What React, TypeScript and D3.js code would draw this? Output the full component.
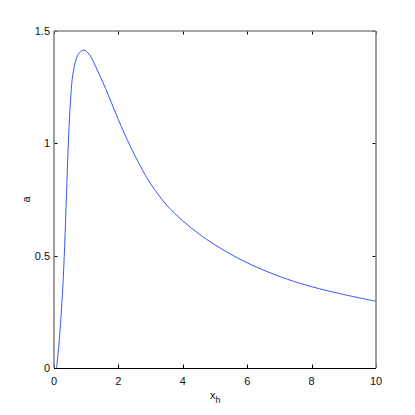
import { useEffect, useRef } from 'react';
import * as d3 from 'd3';

// values
const xs = [0.08, 0.165, 0.27, 0.33, 0.39, 0.44, 0.5, 0.6, 0.75, 0.92, 1.1, 1.3, 1.6, 2.0, 2.36, 2.67, 3.0, 3.5, 4.0, 4.5, 5.0, 5.78, 6.5, 7.25, 8.0, 9.0, 10];
const ys = [0, 0.125, 0.35, 0.54, 0.78, 0.98, 1.16, 1.32, 1.395, 1.415, 1.395, 1.34, 1.245, 1.105, 0.99, 0.902, 0.82, 0.725, 0.655, 0.597, 0.548, 0.484, 0.436, 0.395, 0.362, 0.327, 0.297];
const xTicks = [0, 2, 4, 6, 8, 10];
const yTicks = [0, 0.5, 1, 1.5];

const W = 415;
const H = 415;
const margin = { top: 31, right: 39, bottom: 47, left: 54 };

export default function App() {
  const svgRef = useRef<SVGSVGElement>(null);

  useEffect(() => {
    if (!svgRef.current) return;
    const svg = d3.select(svgRef.current);
    svg.selectAll('*').remove();

    const x = d3.scaleLinear().domain([0, 10]).range([margin.left, W - margin.right]);
    const y = d3.scaleLinear().domain([0, 1.5]).range([H - margin.bottom, margin.top]);
    const font = 'Liberation Sans, Arial, sans-serif';
    const tl = 3.5;

    svg.append('rect').attr('width', W).attr('height', H).attr('fill', '#fff');

    const pts = xs.map((v, i) => [v, ys[i]] as [number, number]);
    const line = d3.line<[number, number]>()
      .x(d => x(d[0]))
      .y(d => y(d[1]))
      .curve(d3.curveCatmullRom.alpha(0.5));

    svg.append('path')
      .attr('d', line(pts))
      .attr('fill', 'none')
      .attr('stroke', '#3355ff')
      .attr('stroke-width', 1);

    const x0 = x(0), x1 = x(10), y0 = y(0), y1 = y(1.5);

    // ticks inside, on all four sides
    const tg = svg.append('g').attr('stroke', '#000').attr('stroke-width', 1);
    xTicks.forEach(t => {
      const px = Math.round(x(t)) + 0.5;
      tg.append('line').attr('x1', px).attr('x2', px).attr('y1', y0).attr('y2', y0 - tl);
      tg.append('line').attr('x1', px).attr('x2', px).attr('y1', y1).attr('y2', y1 + tl);
    });
    yTicks.forEach(t => {
      const py = Math.round(y(t)) + 0.5;
      tg.append('line').attr('x1', x0).attr('x2', x0 + tl).attr('y1', py).attr('y2', py);
      tg.append('line').attr('x1', x1).attr('x2', x1 - tl).attr('y1', py).attr('y2', py);
    });

    // box
    svg.append('line').attr('x1', x0).attr('x2', x1).attr('y1', y1).attr('y2', y1)
      .attr('stroke', '#888').attr('stroke-width', 1.6);
    svg.append('line').attr('x1', x0).attr('x2', x0).attr('y1', y1).attr('y2', y0)
      .attr('stroke', '#888').attr('stroke-width', 1.6);
    svg.append('line').attr('x1', x1).attr('x2', x1).attr('y1', y1).attr('y2', y0)
      .attr('stroke', '#888').attr('stroke-width', 1.6);
    svg.append('line').attr('x1', x0).attr('x2', x1).attr('y1', y0 + 0.5).attr('y2', y0 + 0.5)
      .attr('stroke', '#000').attr('stroke-width', 1);

    // tick labels
    svg.append('g').selectAll('text')
      .data(xTicks)
      .join('text')
      .attr('x', d => x(d))
      .attr('y', y0 + 17)
      .attr('text-anchor', 'middle')
      .attr('font-family', font)
      .attr('font-size', 11)
      .attr('fill', '#111')
      .text(d => d3.format('~g')(d));

    svg.append('g').selectAll('text')
      .data(yTicks)
      .join('text')
      .attr('x', x0 - 4)
      .attr('y', d => y(d))
      .attr('dy', '0.35em')
      .attr('text-anchor', 'end')
      .attr('font-family', font)
      .attr('font-size', 11)
      .attr('fill', '#111')
      .text(d => d3.format('~g')(d));

    // axis labels
    const xl = svg.append('text')
      .attr('x', 210)
      .attr('y', 399)
      .attr('font-family', font)
      .attr('font-size', 11)
      .attr('fill', '#111');
    xl.append('tspan').text('x');
    xl.append('tspan').attr('dy', 4).attr('font-size', 9).text('h');

    svg.append('text')
      .attr('transform', `translate(30,${(y0 + y1) / 2}) rotate(-90)`)
      .attr('text-anchor', 'middle')
      .attr('font-family', font)
      .attr('font-size', 11)
      .attr('fill', '#111')
      .text('a');
  }, []);

  return (
    <svg
      ref={svgRef}
      width={W}
      height={H}
      style={{ position: 'absolute', left: 0, top: 0 }}
    />
  );
}
